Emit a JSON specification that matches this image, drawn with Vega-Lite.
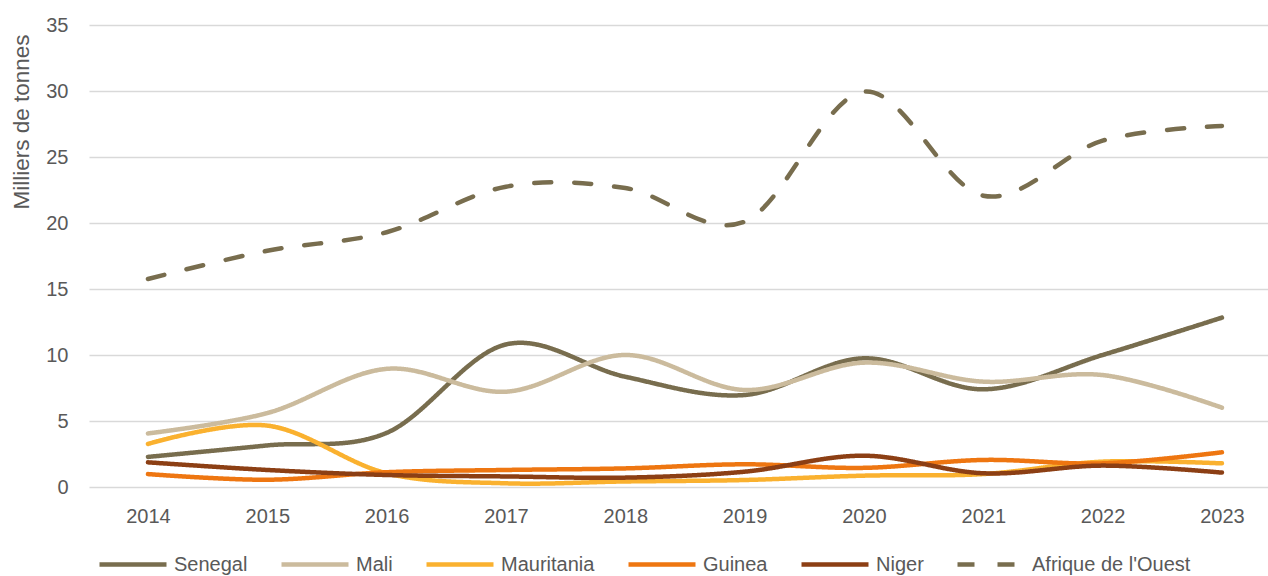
{
  "$schema": "https://vega.github.io/schema/vega-lite/v6.json",
  "autosize": {"type": "none"},
  "padding": {"left": 89, "top": 25, "right": 0, "bottom": 89},
  "width": 1179,
  "height": 462,
  "background": "white",
  "config": {"view": {"stroke": null}, "font": "Liberation Sans"},
  "data": {"values": [
    {"year": 2014, "series": "Senegal", "value": 2.28},
    {"year": 2015, "series": "Senegal", "value": 3.15},
    {"year": 2016, "series": "Senegal", "value": 4.1},
    {"year": 2017, "series": "Senegal", "value": 10.8},
    {"year": 2018, "series": "Senegal", "value": 8.35},
    {"year": 2019, "series": "Senegal", "value": 6.97},
    {"year": 2020, "series": "Senegal", "value": 9.75},
    {"year": 2021, "series": "Senegal", "value": 7.4},
    {"year": 2022, "series": "Senegal", "value": 10.0},
    {"year": 2023, "series": "Senegal", "value": 12.83},
    {"year": 2014, "series": "Mali", "value": 4.06},
    {"year": 2015, "series": "Mali", "value": 5.6},
    {"year": 2016, "series": "Mali", "value": 8.95},
    {"year": 2017, "series": "Mali", "value": 7.22},
    {"year": 2018, "series": "Mali", "value": 10.0},
    {"year": 2019, "series": "Mali", "value": 7.35},
    {"year": 2020, "series": "Mali", "value": 9.42},
    {"year": 2021, "series": "Mali", "value": 7.98},
    {"year": 2022, "series": "Mali", "value": 8.48},
    {"year": 2023, "series": "Mali", "value": 6.01},
    {"year": 2014, "series": "Mauritania", "value": 3.26},
    {"year": 2015, "series": "Mauritania", "value": 4.65},
    {"year": 2016, "series": "Mauritania", "value": 1.04},
    {"year": 2017, "series": "Mauritania", "value": 0.28},
    {"year": 2018, "series": "Mauritania", "value": 0.42},
    {"year": 2019, "series": "Mauritania", "value": 0.53},
    {"year": 2020, "series": "Mauritania", "value": 0.86},
    {"year": 2021, "series": "Mauritania", "value": 0.98},
    {"year": 2022, "series": "Mauritania", "value": 1.92},
    {"year": 2023, "series": "Mauritania", "value": 1.79},
    {"year": 2014, "series": "Guinea", "value": 0.98},
    {"year": 2015, "series": "Guinea", "value": 0.55},
    {"year": 2016, "series": "Guinea", "value": 1.12},
    {"year": 2017, "series": "Guinea", "value": 1.29},
    {"year": 2018, "series": "Guinea", "value": 1.41},
    {"year": 2019, "series": "Guinea", "value": 1.72},
    {"year": 2020, "series": "Guinea", "value": 1.45},
    {"year": 2021, "series": "Guinea", "value": 2.05},
    {"year": 2022, "series": "Guinea", "value": 1.79},
    {"year": 2023, "series": "Guinea", "value": 2.63},
    {"year": 2014, "series": "Niger", "value": 1.87},
    {"year": 2015, "series": "Niger", "value": 1.29},
    {"year": 2016, "series": "Niger", "value": 0.91},
    {"year": 2017, "series": "Niger", "value": 0.8},
    {"year": 2018, "series": "Niger", "value": 0.71},
    {"year": 2019, "series": "Niger", "value": 1.16},
    {"year": 2020, "series": "Niger", "value": 2.37},
    {"year": 2021, "series": "Niger", "value": 1.04},
    {"year": 2022, "series": "Niger", "value": 1.62},
    {"year": 2023, "series": "Niger", "value": 1.09},
    {"year": 2014, "series": "Afrique de l'Ouest", "value": 15.76},
    {"year": 2015, "series": "Afrique de l'Ouest", "value": 17.9},
    {"year": 2016, "series": "Afrique de l'Ouest", "value": 19.3},
    {"year": 2017, "series": "Afrique de l'Ouest", "value": 22.75},
    {"year": 2018, "series": "Afrique de l'Ouest", "value": 22.65},
    {"year": 2019, "series": "Afrique de l'Ouest", "value": 20.1},
    {"year": 2020, "series": "Afrique de l'Ouest", "value": 29.95},
    {"year": 2021, "series": "Afrique de l'Ouest", "value": 22.07},
    {"year": 2022, "series": "Afrique de l'Ouest", "value": 26.24},
    {"year": 2023, "series": "Afrique de l'Ouest", "value": 27.35}
  ]},
  "mark": {"type": "line", "interpolate": "cardinal", "strokeWidth": 4.5, "strokeCap": "round", "strokeJoin": "round"},
  "encoding": {
    "x": {
      "field": "year", "type": "quantitative",
      "scale": {"domain": [2013.506, 2023.386], "nice": false, "zero": false},
      "axis": {
        "title": null, "grid": false, "domain": false, "ticks": false,
        "values": [2014, 2015, 2016, 2017, 2018, 2019, 2020, 2021, 2022, 2023],
        "format": "d", "labelFontSize": 20, "labelColor": "#595959",
        "labelPadding": 19, "labelFont": "Liberation Sans", "labelFlush": false
      }
    },
    "y": {
      "field": "value", "type": "quantitative",
      "scale": {"domain": [0, 35], "nice": false},
      "axis": {
        "title": "Milliers de tonnes", "values": [0, 5, 10, 15, 20, 25, 30, 35],
        "grid": true, "gridColor": "#d9d9d9", "gridWidth": 1.5,
        "domain": false, "ticks": false,
        "labelFontSize": 20, "labelColor": "#595959", "labelPadding": 21,
        "labelFont": "Liberation Sans",
        "titleFont": "Liberation Sans", "titleFontSize": 22.5, "titleFontWeight": "normal",
        "titleColor": "#595959", "titleAngle": 270, "titleAlign": "center",
        "titleBaseline": "bottom", "titleX": -56, "titleY": 96.5
      }
    },
    "color": {
      "field": "series", "type": "nominal",
      "sort": ["Senegal", "Mali", "Mauritania", "Guinea", "Niger", "Afrique de l'Ouest"],
      "scale": {
        "domain": ["Senegal", "Mali", "Mauritania", "Guinea", "Niger", "Afrique de l'Ouest"],
        "range": ["#786d4e", "#cbbb9d", "#fab12f", "#ee7611", "#8c3f14", "#786d4e"]
      },
      "legend": {
        "title": null, "orient": "none", "direction": "horizontal", "columns": 6,
        "legendX": 8, "legendY": 503.5,
        "symbolType": "stroke", "symbolSize": 4489, "symbolStrokeWidth": 4.5,
        "labelFont": "Liberation Sans", "labelFontSize": 20, "labelColor": "#595959",
        "labelOffset": 5, "columnPadding": 24, "symbolOffset": 0
      }
    },
    "strokeDash": {
      "field": "series", "type": "nominal",
      "sort": ["Senegal", "Mali", "Mauritania", "Guinea", "Niger", "Afrique de l'Ouest"],
      "scale": {
        "domain": ["Senegal", "Mali", "Mauritania", "Guinea", "Niger", "Afrique de l'Ouest"],
        "range": [[1, 0], [1, 0], [1, 0], [1, 0], [1, 0], [17, 23]]
      },
      "legend": {
        "title": null, "orient": "none", "direction": "horizontal", "columns": 6,
        "legendX": 8, "legendY": 503.5,
        "symbolType": "stroke", "symbolSize": 4489, "symbolStrokeWidth": 4.5,
        "labelFont": "Liberation Sans", "labelFontSize": 20, "labelColor": "#595959",
        "labelOffset": 5, "columnPadding": 24, "symbolOffset": 0
      }
    }
  }
}
